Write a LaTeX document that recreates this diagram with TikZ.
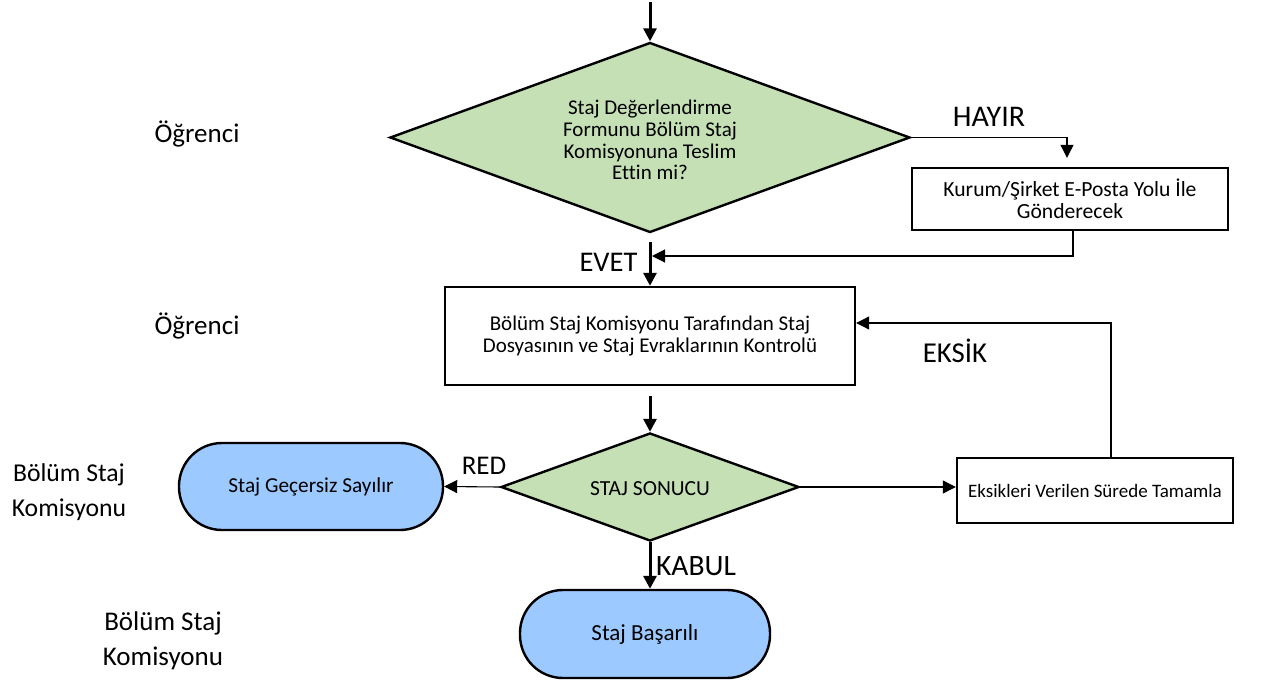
\documentclass[tikz,border=0pt]{standalone}
\usepackage{fontspec}
\setmainfont{Carlito}[Ligatures=CommonOff]
\usetikzlibrary{arrows.meta,shapes.geometric}
\definecolor{dgreen}{HTML}{C5E0B4}
\definecolor{pblue}{HTML}{9CC9FF}
\tikzset{
  dec/.style={shape=diamond, draw=black, line width=2.4pt, fill=dgreen, inner sep=0pt},
  procbox/.style={draw=black, line width=2.4pt, fill=white, inner sep=0pt},
  pill/.style={draw=black, line width=2.4pt, fill=pblue, inner sep=0pt},
  ntext/.style={font=\fontsize{21}{21.7}\selectfont, align=center},
  lab/.style={font=\fontsize{27}{35}\selectfont, align=center},
  tip/.style={-{Triangle[length=13pt,width=13pt]}},
  thickarrow/.style={tip, line width=3pt},
  thinarrow/.style={tip, line width=1.1pt}
}
\begin{document}
\begin{tikzpicture}[x=1pt,y=-1pt]
\useasboundingbox (0,0) rectangle (1269,680);
% shapes
\node[dec, minimum width=520pt, minimum height=190pt] (d1) at (650,137.5) {};
\node[ntext] (d1t) at (650,140) {Staj Değerlendirme\\Formunu Bölüm Staj\\Komisyonuna Teslim\\Ettin mi?};
\node[procbox, minimum width=316pt, minimum height=62pt, ntext, font=\fontsize{21.6}{22}\selectfont] (k) at (1070,199) {Kurum/Şirket E-Posta Yolu İle\\Gönderecek};
\node[procbox, minimum width=410pt, minimum height=98pt, ntext] (b2) at (650,336) {Bölüm Staj Komisyonu Tarafından Staj\\Dosyasının ve Staj Evraklarının Kontrolü};
\node[dec, minimum width=298pt, minimum height=108pt] (d2) at (650,487) {};
\node[ntext, font=\fontsize{21.5}{22}\selectfont] (d2t) at (650,489) {STAJ SONUCU};
\node[pill, minimum width=264pt, minimum height=87pt, rounded corners=43pt, ntext, font=\fontsize{21.3}{22}\selectfont] (p1) at (311,486.5) {Staj Geçersiz Sayılır};
\node[procbox, minimum width=276pt, minimum height=65pt, ntext, font=\fontsize{19}{22}\selectfont] (b3) at (1095,490.5) {Eksikleri Verilen Sürede Tamamla};
\node[pill, minimum width=250pt, minimum height=88pt, rounded corners=43pt, ntext, font=\fontsize{23}{24}\selectfont] (p2) at (645,634) {Staj Başarılı};
% lane labels
\node[lab] (l1) at (197,134) {Öğrenci};
\node[lab] (l2) at (197,326) {Öğrenci};
\node[lab, font=\fontsize{25.7}{35}\selectfont] (l3) at (69,492) {Bölüm Staj\\Komisyonu};
\node[lab] (l4) at (163,641) {Bölüm Staj\\Komisyonu};
% edge labels
\node[lab, font=\fontsize{30}{35}\selectfont] (hayir) at (989,117) {HAYIR};
\node[lab, font=\fontsize{28.5}{35}\selectfont, anchor=east] (evet) at (641,262) {EVET};
\node[lab, font=\fontsize{28.8}{35}\selectfont] (eksik) at (955,351) {EKSİK};
\node[lab] (red) at (484,466) {RED};
\node[lab, font=\fontsize{29.5}{35}\selectfont] (kabul) at (696,566) {KABUL};
% connectors
\coordinate (start) at (650,2);
\draw[thickarrow] (start) -- (d1.north);
\draw[thinarrow, shorten >=9pt] (d1.east) -| ([xshift=-3pt]k.north);
\coordinate (join) at (652,256);
\draw[thinarrow] ([xshift=3pt]k.south) |- (join);
\draw[thickarrow, shorten <=8pt] (d1.south) -- (b2.north);
\draw[thickarrow, shorten <=10pt] (b2.south) -- (d2.north);
\draw[thinarrow] (d2.west) -- (p1.east);
\draw[thinarrow] (d2.east) -- (d2.east -| b3.west);
\draw[thinarrow] ([xshift=16pt]b3.north) |- ([yshift=13pt]b2.east);
\draw[thickarrow] (d2.south) -- (d2.south |- p2.north);
\end{tikzpicture}
\end{document}
